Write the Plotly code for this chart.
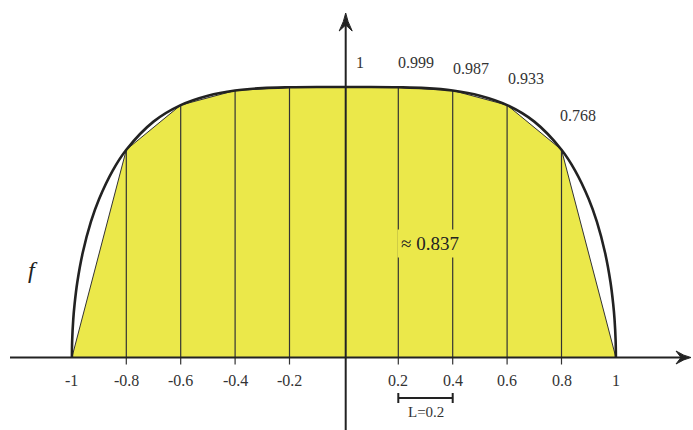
import plotly.graph_objects as go

# Curve f(x) sampled along its outline
curve_x = [-1.0, -0.999, -0.995, -0.99, -0.98, -0.96, -0.93, -0.9, -0.85, -0.8, -0.7, -0.6,
           -0.5, -0.4, -0.3, -0.2, -0.1, 0.0, 0.1, 0.2, 0.3, 0.4, 0.5, 0.6, 0.7, 0.8,
           0.85, 0.9, 0.93, 0.96, 0.98, 0.99, 0.995, 0.999, 1.0]
curve_y = [0.0, 0.063, 0.141, 0.198, 0.279, 0.388, 0.502, 0.586, 0.691, 0.768, 0.872, 0.933,
           0.968, 0.987, 0.996, 0.999, 1.0, 1.0, 1.0, 0.999, 0.996, 0.987, 0.968, 0.933, 0.872, 0.768,
           0.691, 0.586, 0.502, 0.388, 0.279, 0.198, 0.141, 0.063, 0.0]

# Trapezoid nodes
node_x = [-1.0, -0.8, -0.6, -0.4, -0.2, 0.0, 0.2, 0.4, 0.6, 0.8, 1.0]
node_y = [0.0, 0.768, 0.933, 0.987, 0.999, 1.0, 0.999, 0.987, 0.933, 0.768, 0.0]

tick_vals = [-1.0, -0.8, -0.6, -0.4, -0.2, 0.2, 0.4, 0.6, 0.8, 1.0]
tick_text = ["-1", "-0.8", "-0.6", "-0.4", "-0.2", "0.2", "0.4", "0.6", "0.8", "1"]

value_x = [0.0, 0.2, 0.4, 0.6, 0.8]
value_y = [1.0, 0.999, 0.987, 0.933, 0.768]
value_text = ["1", "0.999", "0.987", "0.933", "0.768"]

area_text = "≈ 0.837"
step_text = "L=0.2"

W, H = 693, 430
SX, SY = 272.0, 270.5          # pixels per unit
X0, Y0 = 343.9, 357.5          # pixel position of the origin


def dx(p):
    return p / SX


def dy(p):
    return p / SY


YELLOW = "#ebe84a"
INK = "#222222"
FONT = "Liberation Serif, Times New Roman, serif"

fig = go.Figure()

# yellow trapezoid polygon
fig.add_trace(go.Scatter(x=node_x, y=node_y, fill="toself", fillcolor=YELLOW,
                         mode="lines", line=dict(color="#333333", width=1),
                         hoverinfo="skip", showlegend=False))

# vertical segments at interior nodes, reaching slightly below the axis as ticks
vx, vy = [], []
for xv, yv in zip(node_x, node_y):
    if 0 < abs(xv) < 1:
        vx += [xv, xv, None]
        vy += [-dy(7), yv, None]
fig.add_trace(go.Scatter(x=vx, y=vy, mode="lines", line=dict(color="#333333", width=1.2),
                         hoverinfo="skip", showlegend=False))

# axes
x_tip = (691 - X0) / SX
y_tip = (Y0 - 13) / SY
x_left = (10 - X0) / SX
y_bottom = (Y0 - 432) / SY
y_axis_x = dx(1.8)
fig.add_trace(go.Scatter(x=[x_left, x_tip - dx(8)], y=[0, 0], mode="lines",
                         line=dict(color=INK, width=2), hoverinfo="skip", showlegend=False))
fig.add_trace(go.Scatter(x=[y_axis_x, y_axis_x], y=[y_bottom, y_tip - dy(10)], mode="lines",
                         line=dict(color=INK, width=2), hoverinfo="skip", showlegend=False))

# the curve
fig.add_trace(go.Scatter(x=curve_x, y=curve_y, mode="lines", line_shape="spline",
                         line=dict(color=INK, width=2.6), hoverinfo="skip", showlegend=False))

# scale bar
bar_y = (Y0 - 398) / SY
fig.add_trace(go.Scatter(x=[0.2, 0.4, None, 0.2, 0.2, None, 0.4, 0.4],
                         y=[bar_y, bar_y, None, bar_y - dy(5), bar_y + dy(5), None,
                            bar_y - dy(5), bar_y + dy(5)],
                         mode="lines", line=dict(color=INK, width=2),
                         hoverinfo="skip", showlegend=False))

# arrow heads
L, Wd, N = 15, 6.5, 10
xa = (f"M {x_tip},0 Q {x_tip - dx(7)},{dy(1.5)} {x_tip - dx(L)},{dy(Wd)} "
      f"L {x_tip - dx(N)},0 L {x_tip - dx(L)},{-dy(Wd)} Q {x_tip - dx(7)},{-dy(1.5)} {x_tip},0 Z")
L2, W2, N2 = 18, 6.5, 12
ya = (f"M {y_axis_x},{y_tip} Q {y_axis_x + dx(1.5)},{y_tip - dy(8)} {y_axis_x + dx(W2)},{y_tip - dy(L2)} "
      f"L {y_axis_x},{y_tip - dy(N2)} L {y_axis_x - dx(W2)},{y_tip - dy(L2)} "
      f"Q {y_axis_x - dx(1.5)},{y_tip - dy(8)} {y_axis_x},{y_tip} Z")
for p in (xa, ya):
    fig.add_shape(type="path", path=p, xref="x", yref="y", fillcolor=INK,
                  line=dict(color=INK, width=1), layer="above")

# tick labels
for xv, t in zip(tick_vals, tick_text):
    fig.add_annotation(x=xv, y=0, text=t, showarrow=False, yshift=-23,
                       font=dict(family=FONT, size=16, color="#333333"))

# node values above the curve
value_shift = [(16, 25), (18, 25), (18, 22), (19, 27), (16, 34)]
for xv, yv, t, (sx, sy) in zip(value_x, value_y, value_text, value_shift):
    fig.add_annotation(x=xv, y=yv, text=t, showarrow=False, xshift=sx, yshift=sy,
                       font=dict(family=FONT, size=16, color="#333333"))

# area label
fig.add_annotation(x=(430 - X0) / SX, y=(Y0 - 243) / SY, text=area_text, showarrow=False,
                   bgcolor=YELLOW, borderpad=3,
                   font=dict(family=FONT, size=19, color="#222222"))

# function name
fig.add_annotation(x=(33 - X0) / SX, y=(Y0 - 270) / SY, text="<i>f</i>", showarrow=False,
                   font=dict(family=FONT, size=24, color="#222222"))

# scale bar label
fig.add_annotation(x=0.3, y=(Y0 - 412) / SY, text=step_text, showarrow=False,
                   font=dict(family=FONT, size=15, color="#333333"))

fig.update_layout(
    width=W, height=H, margin=dict(l=0, r=0, t=0, b=0),
    paper_bgcolor="white", plot_bgcolor="white",
    xaxis=dict(range=[(0 - X0) / SX, (W - X0) / SX], visible=False, fixedrange=True),
    yaxis=dict(range=[(Y0 - H) / SY, Y0 / SY], visible=False, fixedrange=True),
    showlegend=False,
)

fig.write_html("out.html")
